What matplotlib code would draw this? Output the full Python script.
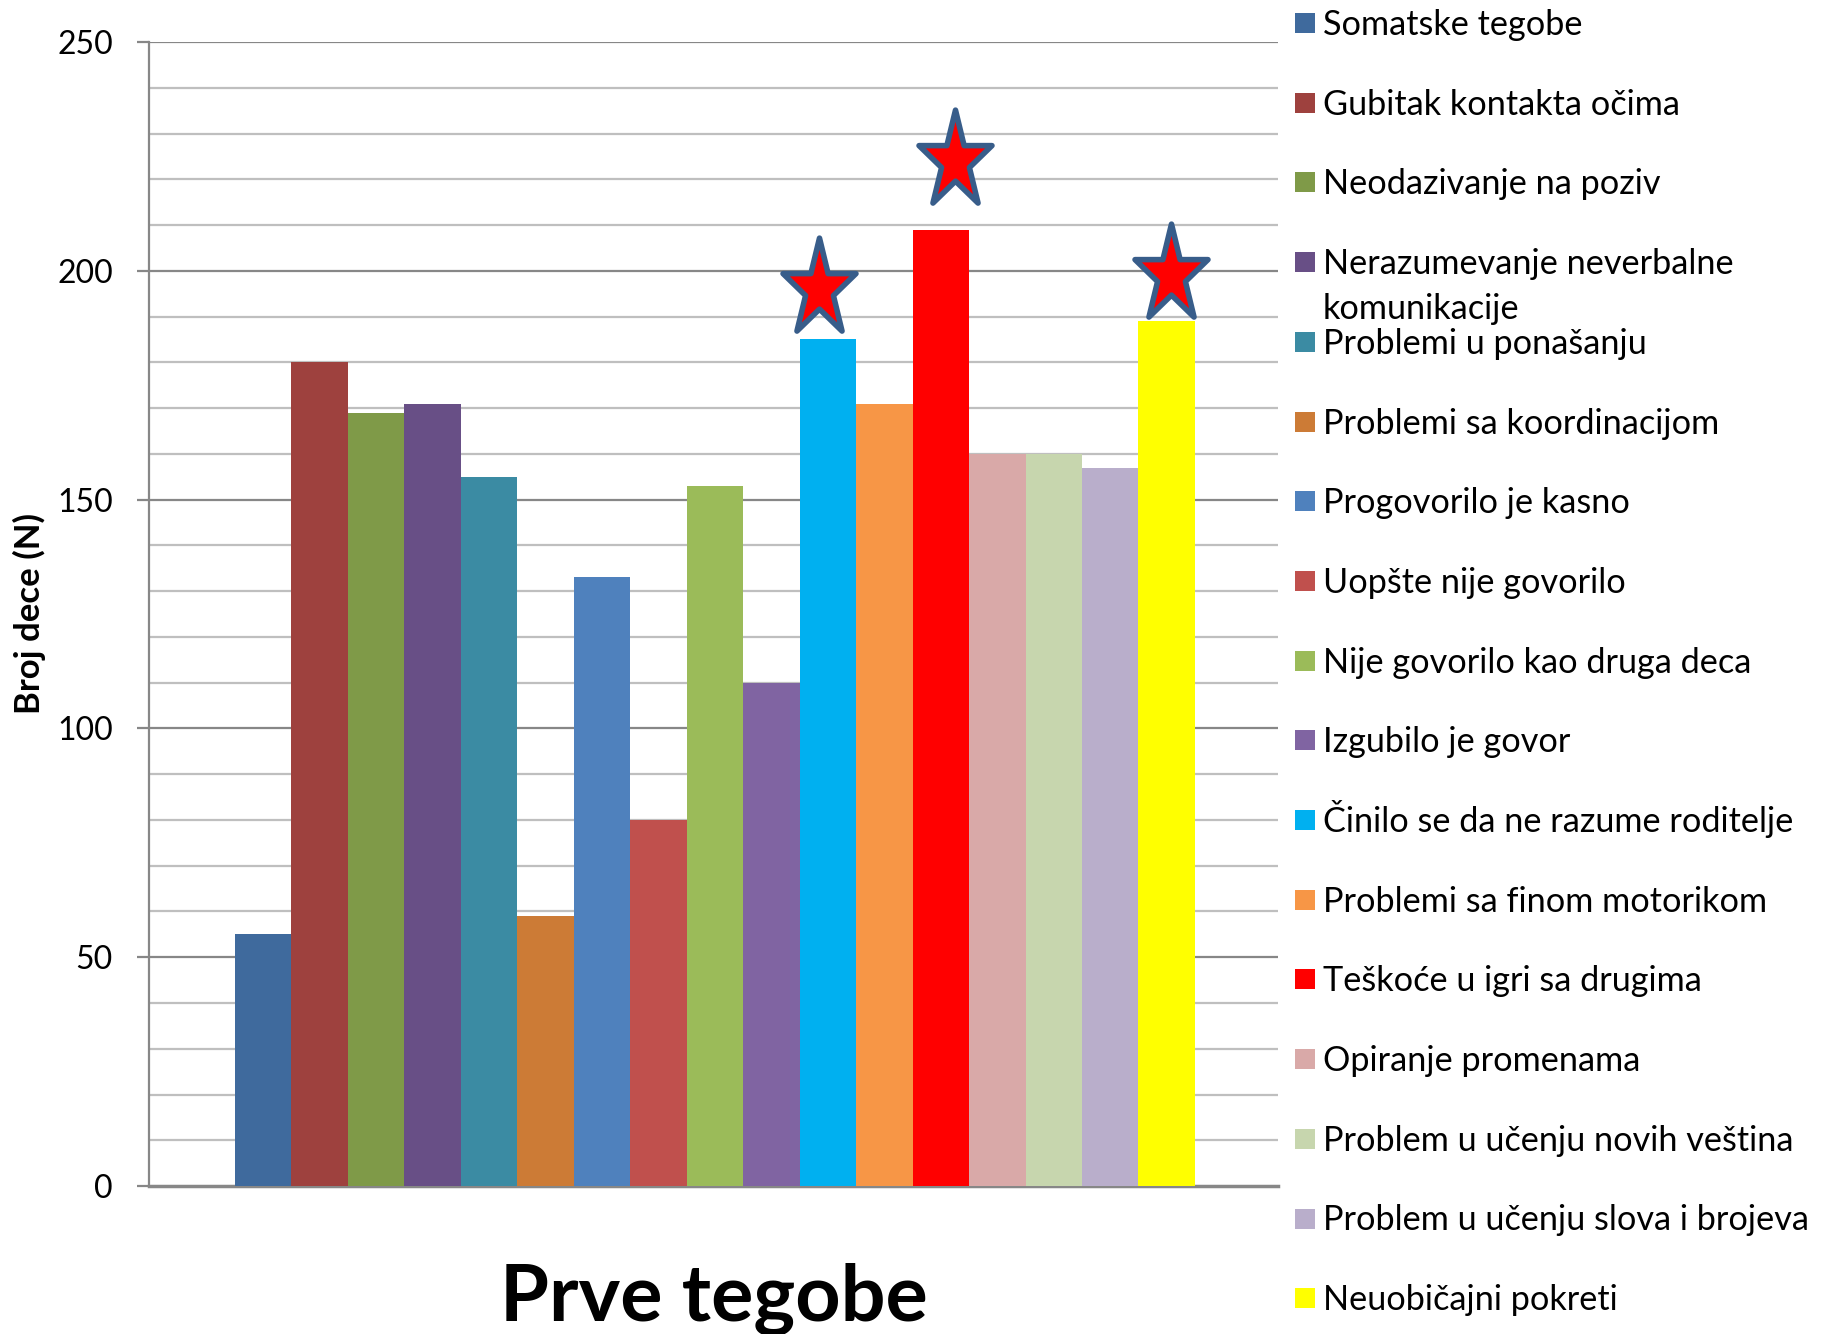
import matplotlib.pyplot as plt
from matplotlib.patches import Rectangle
from matplotlib.path import Path

# podaci: prve tegobe (broj dece)
kategorije = [
    "Somatske tegobe",
    "Gubitak kontakta očima",
    "Neodazivanje na poziv",
    "Nerazumevanje neverbalne\nkomunikacije",
    "Problemi u ponašanju",
    "Problemi sa koordinacijom",
    "Progovorilo je kasno",
    "Uopšte nije govorilo",
    "Nije govorilo kao druga deca",
    "Izgubilo je govor",
    "Činilo se da ne razume roditelje",
    "Problemi sa finom motorikom",
    "Teškoće u igri sa drugima",
    "Opiranje promenama",
    "Problem u učenju novih veština",
    "Problem u učenju slova i brojeva",
    "Neuobičajni pokreti",
]
vrednosti = [55, 180, 169, 171, 155, 59, 133, 80, 153, 110, 185, 171, 209, 160, 160, 157, 189]
boje = ["#3f6a9d", "#9e413e", "#7f9a48", "#684f86", "#3b8ba3", "#cc7b36", "#4f81bd",
        "#c0504d", "#9bbb59", "#8064a2", "#00b0f0", "#f79646", "#ff0000", "#d9a9a8",
        "#c7d6ae", "#b9aecb", "#ffff00"]
# zvezdice iznad istaknutih stubaca
zvezde_x = [9.84, 12.25, 16.07]
zvezde_y = [196, 224, 199]

plt.rcParams['font.family'] = ['Lato', 'DejaVu Sans']

fig = plt.figure(figsize=(18.22, 13.34), dpi=100)
ax = fig.add_axes([0.0818, 0.1109, 0.6196, 0.8576])

x = list(range(len(vrednosti)))
ax.bar(x, vrednosti, width=1.0, color=boje, zorder=3)

# zvezda izduzena po visini, kao u originalu
z = Path.unit_regular_star(5, 0.382)
zvezda = Path(z.vertices * [1.0, 1.34], z.codes)
ax.plot(zvezde_x, zvezde_y, linestyle='none', marker=zvezda,
        markersize=74, markerfacecolor='#ff0000', markeredgecolor='#385d8a',
        markeredgewidth=4, zorder=5, clip_on=False)

ax.set_xlim(-2.02, 17.97)
ax.set_ylim(0, 250)

# mreza
for v in range(10, 250, 10):
    if v % 50 != 0:
        ax.axhline(v, color='#bfbfbf', lw=1.6, zorder=1)
for v in range(50, 251, 50):
    ax.axhline(v, color='#878787', lw=1.6, zorder=1)

ax.set_yticks(range(0, 251, 50))
ax.set_xticks([])
ax.tick_params(axis='y', length=9, width=1.6, color='#878787', pad=17, labelsize=23)
for s in ['top', 'right']:
    ax.spines[s].set_visible(False)
ax.spines['left'].set_color('#878787')
ax.spines['left'].set_linewidth(1.6)
ax.spines['bottom'].set_color('#878787')
ax.spines['bottom'].set_linewidth(2.5)

W, H = 1822, 1334
fig.text(29 / W, 1 - 614 / H, 'Broj dece (N)', fontsize=25, fontweight='bold',
         rotation=90, ha='center', va='center')

fig.text(0.392, 0.0097, 'Prve tegobe', fontsize=57, fontweight='bold',
         ha='center', va='baseline')

# legenda (rucno, kao u originalu: drugi red ne pomera ostale stavke)
for i, (k, b) in enumerate(zip(kategorije, boje)):
    yc = 23 + i * 79.7
    fig.patches.append(Rectangle((1295 / W, 1 - (yc + 10) / H), 20 / W, 20 / H,
                                 transform=fig.transFigure, facecolor=b, edgecolor='none'))
    for j, red in enumerate(k.split('\n')):
        fig.text(1323 / W, 1 - (yc + 12 + j * 45) / H, red, fontsize=24.7,
                 ha='left', va='baseline')

fig.savefig('out.png', dpi=100)
